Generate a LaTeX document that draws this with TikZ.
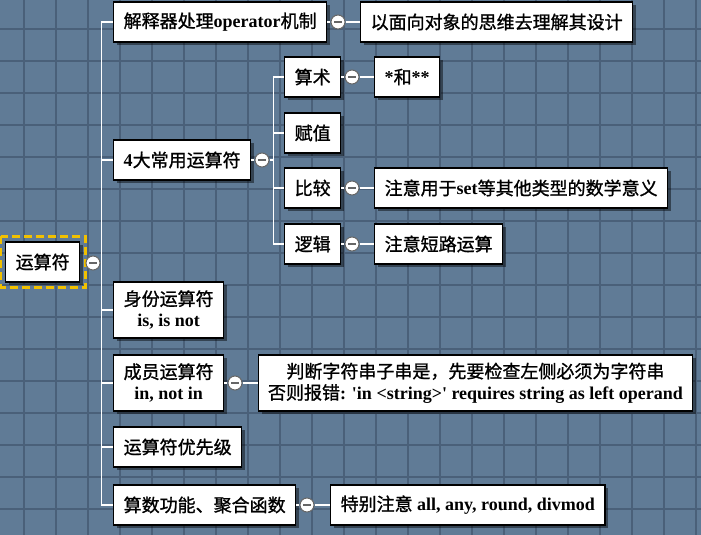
\documentclass[tikz,border=0pt]{standalone}
\usepackage{fontspec}
\setmainfont{Liberation Serif}
\newfontfamily\cjk{Noto Sans CJK SC}[FakeBold=1.2]
\newcommand\zh[1]{{\cjk\mdseries #1}}
\usetikzlibrary{shadows}
\definecolor{bgblue}{HTML}{607B96}
\definecolor{gridblue}{HTML}{4A6079}
\definecolor{rootgold}{HTML}{F2C100}

\begin{document}
\begin{tikzpicture}[x=0.75pt,y=-0.75pt,
    box/.style={draw=black,line width=1pt,fill=white,anchor=west,inner xsep=7.5pt,
      minimum height=30pt,align=center,font=\fontsize{13.5}{16}\selectfont\bfseries,
      drop shadow={shadow xshift=2.5pt,shadow yshift=-2.5pt,fill=black,opacity=0.45}},
    fold/.style={circle,draw=black!60,line width=0.8pt,fill=white,inner sep=0pt,minimum size=10.5pt,
      path picture={\draw[line width=0.9pt] ([xshift=-3pt]path picture bounding box.center)
        -- ([xshift=3pt]path picture bounding box.center);}},
    link/.style={draw=white,line width=1.2pt}]
  \useasboundingbox (0,0) rectangle (701,535);
  \fill[bgblue] (0,0) rectangle (701,535);
  \foreach \x in {24,56,...,700} \draw[gridblue,line width=0.8pt] (\x,0) -- (\x,535);
  \foreach \y in {29,61,...,534} \draw[gridblue,line width=0.8pt] (0,\y) -- (701,\y);

  % root
  \node[box] (root) at (5,262) {\zh{运算符}};
  \draw[rootgold,line width=2pt,dash pattern=on 6pt off 3pt]
    ([shift={(-4,-5)}]root.north west) rectangle ([shift={(5,5)}]root.south east);
  \node[fold] (c0) at (93,263) {};

  % first level
  \node[box] (n1) at (113,22) {\zh{解释器处理}operator\zh{机制}};
  \node[box] (n2) at (113,160) {4\zh{大常用运算符}};
  \node[box,minimum height=42pt] (n3) at (113,310) {\zh{身份运算符}\\is, is not};
  \node[box,minimum height=42pt] (n4) at (113,383) {\zh{成员运算符}\\in, not in};
  \node[box] (n5) at (113,447) {\zh{运算符优先级}};
  \node[box] (n6) at (113,505) {\zh{算数功能、聚合函数}};

  \draw[link] (c0.east) -- ++(1,0) coordinate (t0);
  \foreach \n in {n1,n2,n3,n4,n5,n6}
    \draw[link] (t0) |- (\n.west);

  % notes
  \node[fold] (c1) at (338,22) {};
  \node[box] (m1) at (360,22) {\zh{以面向对象的思维去理解其设计}};
  \draw[link] (n1) -- (c1) -- (m1);

  \node[fold] (c4) at (235,383) {};
  \node[box,minimum height=42pt,inner xsep=7pt] (m4) at (258,383)
    {\zh{判断字符串子串是，先要检查左侧必须为字符串}\\
     \zh{否则报错}: {\textquotesingle}in <string>{\textquotesingle} requires string as left operand};
  \draw[link] (n4) -- (c4) -- (m4);

  \node[fold] (c6) at (307,505) {};
  \node[box] (m6) at (330,505) {\zh{特别注意} all, any, round, divmod};
  \draw[link] (n6) -- (c6) -- (m6);

  % operators
  \node[fold] (c2) at (262,160) {};
  \draw[link] (n2) -- (c2);
  \node[box] (a1) at (284,77) {\zh{算术}};
  \node[box] (a2) at (284,133) {\zh{赋值}};
  \node[box] (a3) at (284,188) {\zh{比较}};
  \node[box] (a4) at (284,244) {\zh{逻辑}};
  \draw[link] (c2.east) -- ++(4,0) coordinate (t2);
  \foreach \a in {a1,a2,a3,a4}
    \draw[link] (t2) |- (\a.west);

  \node[fold] (d1) at (352,77) {};
  \node[box] (b1) at (374,77) {*\zh{和}**};
  \draw[link] (a1) -- (d1) -- (b1);
  \node[fold] (d3) at (352,188) {};
  \node[box] (b3) at (374,188) {\zh{注意用于}set\zh{等其他类型的数学意义}};
  \draw[link] (a3) -- (d3) -- (b3);
  \node[fold] (d4) at (352,244) {};
  \node[box] (b4) at (374,244) {\zh{注意短路运算}};
  \draw[link] (a4) -- (d4) -- (b4);
\end{tikzpicture}
\end{document}
